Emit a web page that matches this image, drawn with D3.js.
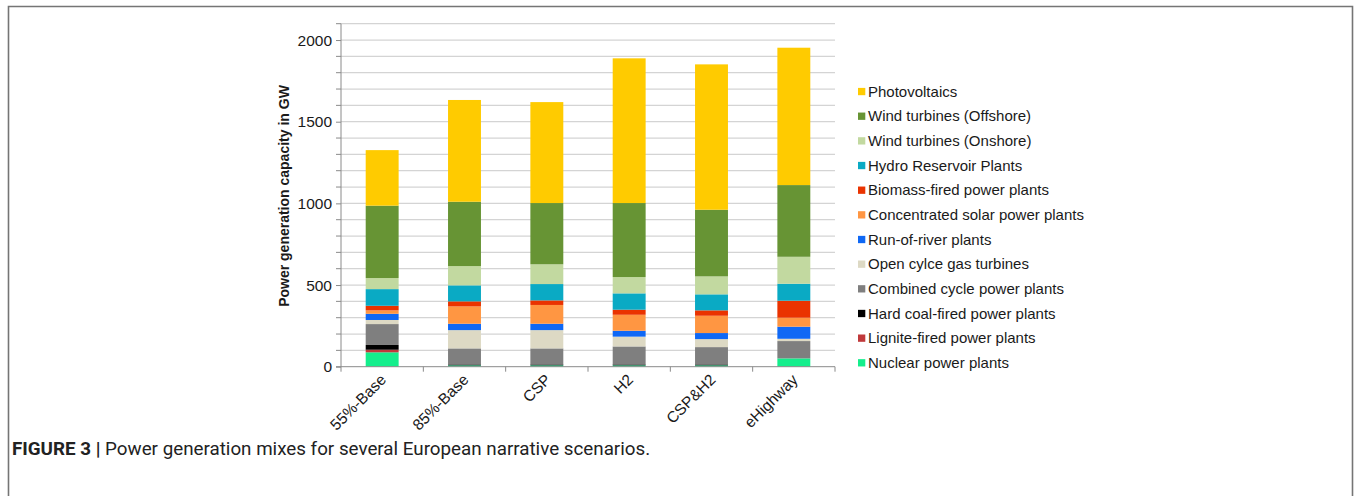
<!DOCTYPE html>
<html>
<head>
<meta charset="utf-8">
<script src="https://cdn.jsdelivr.net/npm/d3@7/dist/d3.min.js"></script>
<style>
  html, body { margin: 0; padding: 0; background: #fff; }
  svg { display: block; }
  svg text { font-family: "Liberation Sans", Arial, Helvetica, sans-serif; }
  svg text.caption { font-family: Roboto, "Liberation Sans", sans-serif; }
</style>
</head>
<body>
<svg id="chart" width="1356" height="496"></svg>
<script>
// Scenarios on the x axis
const scenarios = ["55%-Base", "85%-Base", "CSP", "H2", "CSP&H2", "eHighway"];

// Installed capacity per technology (GW), one value per scenario
const nuclear       = [88, 8, 8, 8, 8, 51];
const lignite       = [16, 0, 0, 0, 0, 0];
const hardCoal      = [29, 6, 6, 6, 6, 0];
const combinedCycle = [128, 98, 98, 110, 106, 106];
const openCycleGas  = [25, 112, 112, 60, 49, 14];
const runOfRiver    = [38, 39, 39, 36, 37, 74];
const concSolar     = [21, 106, 115, 98, 106, 55];
const biomass       = [28, 31, 28, 31, 33, 104];
const hydroReservoir= [102, 98, 100, 100, 98, 104];
const windOnshore   = [68, 118, 121, 100, 110, 165];
const windOffshore  = [443, 394, 375, 453, 408, 439];
const photovoltaics = [340, 623, 618, 886, 890, 841];

// Y axis labels
const yTicks = [0, 500, 1000, 1500, 2000];

// Series in stacking order (bottom to top)
const series = [
  { name: "Nuclear power plants",             values: nuclear,        color: "#14ee8c" },
  { name: "Lignite-fired power plants",       values: lignite,        color: "#c0393b" },
  { name: "Hard coal-fired power plants",     values: hardCoal,       color: "#000000" },
  { name: "Combined cycle power plants",      values: combinedCycle,  color: "#7f7f7f" },
  { name: "Open cylce gas turbines",          values: openCycleGas,   color: "#ddd9c4" },
  { name: "Run-of-river plants",              values: runOfRiver,     color: "#0f68f5" },
  { name: "Concentrated solar power plants",  values: concSolar,      color: "#ff9642" },
  { name: "Biomass-fired power plants",       values: biomass,        color: "#ea3300" },
  { name: "Hydro Reservoir Plants",           values: hydroReservoir, color: "#0aaac4" },
  { name: "Wind turbines (Onshore)",          values: windOnshore,    color: "#c2d9a0" },
  { name: "Wind turbines (Offshore)",         values: windOffshore,   color: "#679434" },
  { name: "Photovoltaics",                    values: photovoltaics,  color: "#ffcb00" }
];

const svg = d3.select("#chart");

// Figure frame (open at the bottom)
svg.append("path")
  .attr("d", "M8.5,496 V6.5 H1352.5 V496")
  .attr("fill", "none")
  .attr("stroke", "#757575")
  .attr("stroke-width", 1.6);

const plot = { left: 341, right: 835, top: 23.7, bottom: 366.7 };

const x = d3.scaleBand()
  .domain(scenarios)
  .range([plot.left, plot.right])
  .paddingInner(0.6)
  .paddingOuter(0.3);

const y = d3.scaleLinear()
  .domain([0, 2100])
  .range([plot.bottom, plot.top]);

// Horizontal gridlines every 100 GW
const g = svg.append("g");
g.append("g")
  .selectAll("line")
  .data(d3.range(100, 2101, 100))
  .join("line")
  .attr("x1", plot.left).attr("x2", plot.right)
  .attr("y1", d => y(d)).attr("y2", d => y(d))
  .attr("stroke", "#d4d4d4")
  .attr("stroke-width", 1.2);

// Stacked bars
const rows = scenarios.map((s, i) => {
  const r = { scenario: s };
  series.forEach(se => { r[se.name] = se.values[i]; });
  return r;
});
const stack = d3.stack().keys(series.map(s => s.name));
const layers = stack(rows);

g.append("g")
  .selectAll("g")
  .data(layers)
  .join("g")
  .attr("fill", (d, i) => series[i].color)
  .selectAll("rect")
  .data(d => d)
  .join("rect")
  .attr("x", d => x(d.data.scenario))
  .attr("width", x.bandwidth())
  .attr("y", d => y(d[1]))
  .attr("height", d => Math.max(0, y(d[0]) - y(d[1])));

// Y axis
const yAxis = d3.axisLeft(y).tickValues(yTicks).tickFormat(d3.format("d")).tickSize(5).tickPadding(4);
const yg = svg.append("g")
  .attr("transform", `translate(${plot.left},0)`)
  .call(yAxis);
yg.attr("font-family", null);
yg.select(".domain").attr("stroke", "#8a8a8a").attr("d", `M-5,${plot.bottom}H0V${plot.top}`);
yg.selectAll(".tick line").attr("stroke", "#8a8a8a");
yg.selectAll(".tick text")
  .attr("font-size", 15.5)
  .attr("fill", "#1a1a1a");

// Minor ticks on y axis at every gridline
svg.append("g")
  .selectAll("line")
  .data(d3.range(100, 2101, 100).filter(v => v % 500 !== 0))
  .join("line")
  .attr("x1", plot.left - 5).attr("x2", plot.left)
  .attr("y1", d => y(d)).attr("y2", d => y(d))
  .attr("stroke", "#8a8a8a");

// X axis with ticks between categories
const bounds = d3.range(0, scenarios.length + 1).map(i => plot.left + i * (plot.right - plot.left) / scenarios.length);
const xg = svg.append("g");
xg.append("line")
  .attr("x1", plot.left).attr("x2", plot.right)
  .attr("y1", plot.bottom).attr("y2", plot.bottom)
  .attr("stroke", "#8a8a8a");
xg.selectAll(".xt")
  .data(bounds)
  .join("line")
  .attr("class", "xt")
  .attr("x1", d => d).attr("x2", d => d)
  .attr("y1", plot.bottom).attr("y2", plot.bottom + 5)
  .attr("stroke", "#8a8a8a");
xg.selectAll("text")
  .data(scenarios)
  .join("text")
  .attr("transform", d => `translate(${x(d) + x.bandwidth() / 2 + 5},${plot.bottom + 14}) rotate(-45)`)
  .attr("text-anchor", "end")
  .attr("font-size", 15.5)
  .attr("fill", "#1a1a1a")
  .text(d => d);

// Y axis title
svg.append("text")
  .attr("transform", `translate(288.5,196) rotate(-90)`)
  .attr("text-anchor", "middle")
  .attr("font-size", 14)
  .attr("font-weight", "bold")
  .attr("fill", "#1a1a1a")
  .text("Power generation capacity in GW");

// Legend, top entry is the top of the stack
const legendItems = series.slice().reverse();
const lg = svg.append("g").attr("transform", "translate(858,91.5)");
const lrow = lg.selectAll("g")
  .data(legendItems)
  .join("g")
  .attr("transform", (d, i) => `translate(0,${i * 24.66})`);
lrow.append("rect")
  .attr("x", 0).attr("y", -3.6)
  .attr("width", 7.3).attr("height", 7.3)
  .attr("fill", d => d.color);
lrow.append("text")
  .attr("x", 10).attr("y", 5.2)
  .attr("font-size", 15)
  .attr("fill", "#1a1a1a")
  .text(d => d.name);

// Caption
const cap = svg.append("text")
  .attr("class", "caption")
  .attr("x", 12).attr("y", 455)
  .attr("font-size", 18.8)
  .attr("fill", "#222");
cap.append("tspan").attr("font-weight", "bold").text("FIGURE 3 | ");
cap.append("tspan").text("Power generation mixes for several European narrative scenarios.");
</script>
</body>
</html>
